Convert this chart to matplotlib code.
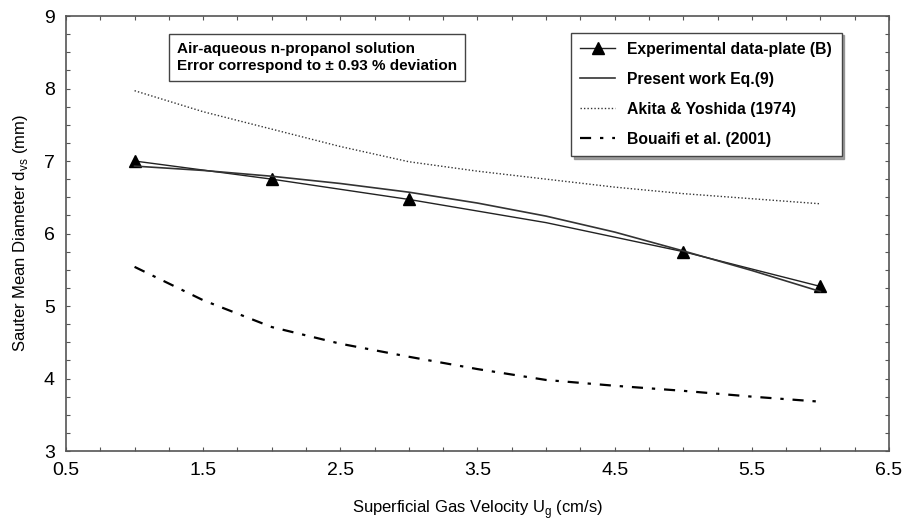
import matplotlib.pyplot as plt
from matplotlib.ticker import MultipleLocator

plt.rcParams['font.family'] = ['Liberation Sans', 'DejaVu Sans']

# data
ug_exp = [1, 2, 3, 4, 5, 6]
d_exp = [7.00, 6.75, 6.47, 6.15, 5.75, 5.27]
exp_points = [0, 1, 2, 4, 5]  # measured points carry a marker

ug_fit = [1, 1.5, 2, 2.5, 3, 3.5, 4, 4.5, 5, 5.5, 6]
d_present = [6.93, 6.87, 6.79, 6.69, 6.57, 6.42, 6.24, 6.02, 5.76, 5.49, 5.20]
d_akita = [7.97, 7.68, 7.44, 7.20, 6.99, 6.86, 6.75, 6.64, 6.55, 6.48, 6.41]
d_bouaifi = [5.54, 5.08, 4.71, 4.48, 4.30, 4.13, 3.98, 3.90, 3.83, 3.75, 3.68]

labels = ['Experimental data-plate (B)', 'Present work Eq.(9)',
          'Akita & Yoshida (1974)', 'Bouaifi et al. (2001)']

fig = plt.figure(figsize=(9.05, 5.27), dpi=100)
ax = fig.add_axes([0.0729, 0.1442, 0.9094, 0.8254])

ax.plot(ug_exp, d_exp, color='#222222', lw=1.0, marker='^', ms=8, markevery=exp_points,
        markerfacecolor='black', markeredgecolor='black', label=labels[0])
ax.plot(ug_fit, d_present, color='#333333', lw=1.2, label=labels[1])
ax.plot(ug_fit, d_akita, color='#333333', lw=1.0, ls=(0, (1, 1.5)), label=labels[2])
ax.plot(ug_fit, d_bouaifi, color='black', lw=1.6, ls=(0, (5, 4, 1.5, 4)), label=labels[3])

ax.set_xlim(0.5, 6.5)
ax.set_ylim(3, 9)
ax.xaxis.set_major_locator(MultipleLocator(1, offset=0.5))
ax.xaxis.set_minor_locator(MultipleLocator(0.25))
ax.yaxis.set_major_locator(MultipleLocator(1))
ax.yaxis.set_minor_locator(MultipleLocator(0.25))
ax.tick_params(which='both', direction='in', top=True, right=True,
               length=3, width=0.8, color='#555555', labelsize=14)
ax.tick_params(axis='x', pad=8)
ax.tick_params(axis='y', pad=8)
for s in ax.spines.values():
    s.set_color('#555555')
    s.set_linewidth(1.2)

ax.set_xlabel('Superficial Gas Velocity U$_\\mathregular{g}$ (cm/s)', fontsize=12, labelpad=14)
ax.set_ylabel('Sauter Mean Diameter d$_\\mathregular{vs}$ (mm)', fontsize=12, labelpad=10)

leg = ax.legend(loc='upper right', bbox_to_anchor=(0.952, 0.98), fancybox=False,
                shadow={'color': '#888888', 'alpha': 0.8}, edgecolor='#444444', framealpha=1,
                prop={'weight': 'bold', 'size': 11.3}, handlelength=2.2,
                labelspacing=0.95, borderpad=0.6)
leg.get_frame().set_linewidth(1.0)

ax.text(0.135, 0.94, 'Air-aqueous n-propanol solution\nError correspond to \u00b1 0.93 % deviation',
        transform=ax.transAxes, fontsize=11, fontweight='bold', va='top', ha='left',
        linespacing=1.3,
        bbox=dict(boxstyle='square,pad=0.5', facecolor='white', edgecolor='#444444', lw=1.0))

fig.savefig('out.png', dpi=100)
